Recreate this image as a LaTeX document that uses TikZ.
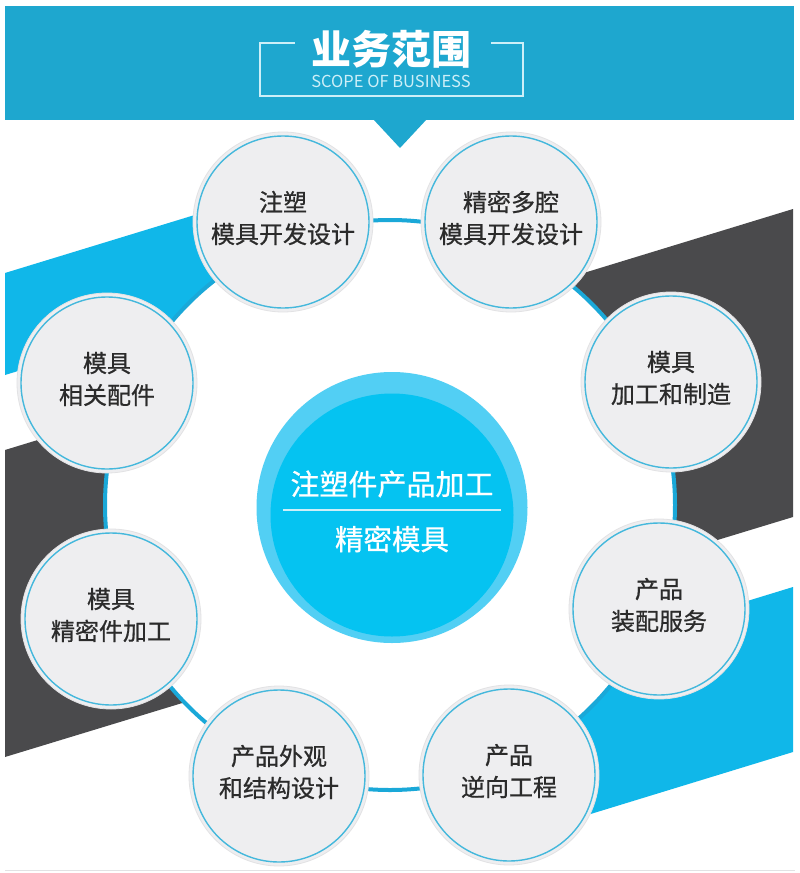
\documentclass[tikz,border=0pt]{standalone}
\usepackage{fontspec}
\newfontfamily\cjk{Noto Sans CJK SC}
\newfontface\cjkm{Noto Sans CJK SC}[FakeBold=0.7]
\definecolor{banner}{HTML}{1EA7CF}
\definecolor{bandblue}{HTML}{10B7E9}
\definecolor{banddark}{HTML}{4A4A4C}
\definecolor{ringc}{HTML}{1AA8D8}
\definecolor{cout}{HTML}{52CFF4}
\definecolor{cin}{HTML}{05C3F1}
\definecolor{cfill}{HTML}{EEEEF0}
\definecolor{crim}{HTML}{E2E2E4}
\definecolor{cline}{HTML}{45B8DC}
\definecolor{txt}{HTML}{2B2B2B}
\definecolor{pale}{HTML}{CDEFF8}
\begin{document}
\begin{tikzpicture}[x=1pt,y=-1pt,
  every node/.style={inner sep=0pt, outer sep=0pt},
  smallc/.style={circle, minimum size=180pt, fill=cfill, draw=crim, line width=0.8pt},
  innerline/.style={draw=cline, line width=1.4pt},
  ringline/.style={draw=ringc, line width=4pt},
  ctext/.style={text=txt, align=center, font=\cjkm\fontsize{24}{32}\selectfont}]
\useasboundingbox (0,0) rectangle (800,873);
\fill[white] (0,0) rectangle (800,873);
% banner
\fill[banner] (5,6) rectangle (794,120);
\fill[banner] (373,119) -- (427,119) -- (400,148) -- cycle;
\draw[pale, line width=1.2pt] (295,43) -- (260,43) -- (260,96) -- (523,96) -- (523,43) -- (491,43);
\node[text=white, font=\cjk\bfseries\fontsize{40}{40}\selectfont] (title) at (391,49) {业务范围};
\node[text=pale, font=\cjk\fontsize{16.5}{16.5}\selectfont] (sub) at (391,81) {SCOPE OF BUSINESS};
% bands
\fill[banddark] (5,450) -- (793,209) -- (793,517) -- (5,757) -- cycle;
\fill[bandblue] (5,273) -- (283,188) -- (283,290) -- (5,375) -- cycle;
\fill[bandblue] (793,587) -- (509,674) -- (509,839) -- (793,752) -- cycle;
% white disc and ring
\fill[white] (390,505) circle[radius=285pt];
\draw[ringline] (390,505) circle[radius=285pt];
% center circle
\node[circle, minimum size=271pt, fill=cout] (outerc) at (392,507.5) {};
\node[circle, minimum size=243pt, fill=cin] (innerc) at (392,515) {};
\node[text=white, font=\cjkm\fontsize{29}{29}\selectfont] (ct1) at (392,484) {注塑件产品加工};
\coordinate (l1) at (283,510);
\coordinate (l2) at (501,510);
\draw[draw=pale, line width=1.4pt] (l1) -- (l2);
\node[text=white, font=\cjkm\fontsize{28.5}{28.5}\selectfont] (ct2) at (392,539) {精密模具};
% small circles
\foreach \n/\x/\y/\t in {
  c1/283/222/{注塑\\模具开发设计},
  c2/511/222/{精密多腔\\模具开发设计},
  c3/671/382/{模具\\加工和制造},
  c4/659/609/{产品\\装配服务},
  c5/509/775/{产品\\逆向工程},
  c6/279/776/{产品外观\\和结构设计},
  c7/111/619/{模具\\精密件加工},
  c8/107/383/{模具\\相关配件}} {
  \node[smallc] (\n) at (\x,\y) {};
  \draw[innerline] (\n.center) circle[radius=86pt];
  \node[ctext] (\n t) at ([yshift=4pt]\n.center) {\t};
}
\draw[draw=crim, line width=0.8pt] (5,870) -- (795,870);
\end{tikzpicture}
\end{document}
